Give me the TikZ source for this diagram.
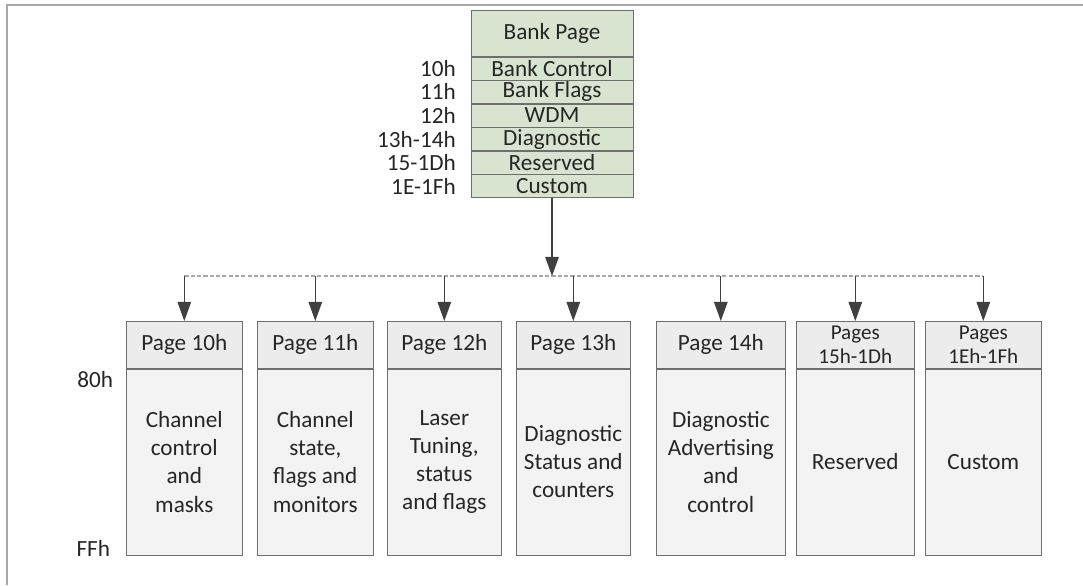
\documentclass[tikz,border=0pt]{standalone}
\usepackage{fontspec}
\setmainfont{Carlito}
\usetikzlibrary{positioning,arrows.meta}
\definecolor{txt}{HTML}{262626}
\definecolor{edge}{HTML}{6E6E6E}
\definecolor{bankgreen}{HTML}{D8E3D0}
\definecolor{hdrgray}{HTML}{ECECEC}
\definecolor{bodygray}{HTML}{F3F3F3}
\definecolor{arrgray}{HTML}{404040}
\definecolor{framegray}{HTML}{A8A8A8}

\begin{document}
\begin{tikzpicture}[x=0.025cm,y=-0.025cm,
  font=\fontsize{16.5}{20}\selectfont, text=txt,
  row/.style={draw=edge,fill=bankgreen,minimum width=4.05cm,minimum height=0.575cm,inner sep=0pt},
  hdr/.style={draw=edge,fill=hdrgray,minimum height=1.175cm,inner sep=0pt,align=center,anchor=north west},
  body/.style={draw=edge,fill=bodygray,minimum height=4.65cm,align=center,below=0pt of #1},
  two/.style={font=\fontsize{15}{17}\selectfont},
  arr/.style={-{Triangle[width=0.34cm,length=0.48cm]},draw=arrgray,line width=0.8pt},
  busline/.style={draw=framegray,line width=0.8pt,dash pattern=on 3pt off 1.5pt}]
\useasboundingbox (0,0) rectangle (1083,585);
\fill[white] (0,0) rectangle (1083,585);
\draw[framegray,line width=1pt] (7,585) -- (7,5) -- (1083,5);

% bank page stack
\node[row,minimum height=1.15cm,anchor=north] (bank) at (552,10) {Bank Page};
\node[row,below=0pt of bank] (rbc) {Bank Control};
\node[row,below=0pt of rbc] (rbf) {Bank Flags};
\node[row,below=0pt of rbf] (rwd) {WDM};
\node[row,below=0pt of rwd] (rdi) {Diagnostic};
\node[row,below=0pt of rdi] (rre) {Reserved};
\node[row,below=0pt of rre] (rcu) {Custom};
\node[left=0.25cm of rbc] (l10) {10h};
\node[left=0.25cm of rbf] (l11) {11h};
\node[left=0.25cm of rwd] (l12) {12h};
\node[left=0.25cm of rdi] (l13) {13h-14h};
\node[left=0.25cm of rre] (l15) {15-1Dh};
\node[left=0.25cm of rcu] (l1e) {1E-1Fh};

% pages
\node[hdr,minimum width=2.9cm] (h10) at (126,321) {Page 10h};
\node[body=h10,minimum width=2.9cm] (b10) {Channel\\control\\and\\masks};
\node[hdr,minimum width=2.9cm] (h11) at (257,321) {Page 11h};
\node[body=h11,minimum width=2.9cm] (b11) {Channel\\state,\\flags and\\monitors};
\node[hdr,minimum width=2.85cm] (h12) at (387,321) {Page 12h};
\node[body=h12,minimum width=2.85cm] (b12) {Laser\\Tuning,\\status\\and flags};
\node[hdr,minimum width=2.85cm] (h13) at (516,321) {Page 13h};
\node[body=h13,minimum width=2.85cm] (b13) {Diagnostic\\Status and\\counters};
\node[hdr,minimum width=3.225cm] (h14) at (656,321) {Page 14h};
\node[body=h14,minimum width=3.225cm] (b14) {Diagnostic\\Advertising\\and\\control};
\node[hdr,two,minimum width=2.95cm] (h15) at (796,321) {Pages\\15h-1Dh};
\node[body=h15,minimum width=2.95cm] (b15) {Reserved};
\node[hdr,two,minimum width=2.9cm] (h1e) at (925,321) {Pages\\1Eh-1Fh};
\node[body=h1e,minimum width=2.9cm] (b1e) {Custom};

\node[anchor=east] (s80) at (118,380) {80h};
\node[anchor=east] (sff) at (115,548) {FFh};

% connectors
\coordinate (bus) at (0,276);
\draw[busline] (h10.north |- bus) -- (h1e.north |- bus);
\draw[arr] (rcu.south) -- (rcu.south |- bus);
\foreach \p in {h10,h11,h12,h13,h14,h15,h1e}
  \draw[arr] (\p.north |- bus) -- (\p.north);
\end{tikzpicture}
\end{document}
